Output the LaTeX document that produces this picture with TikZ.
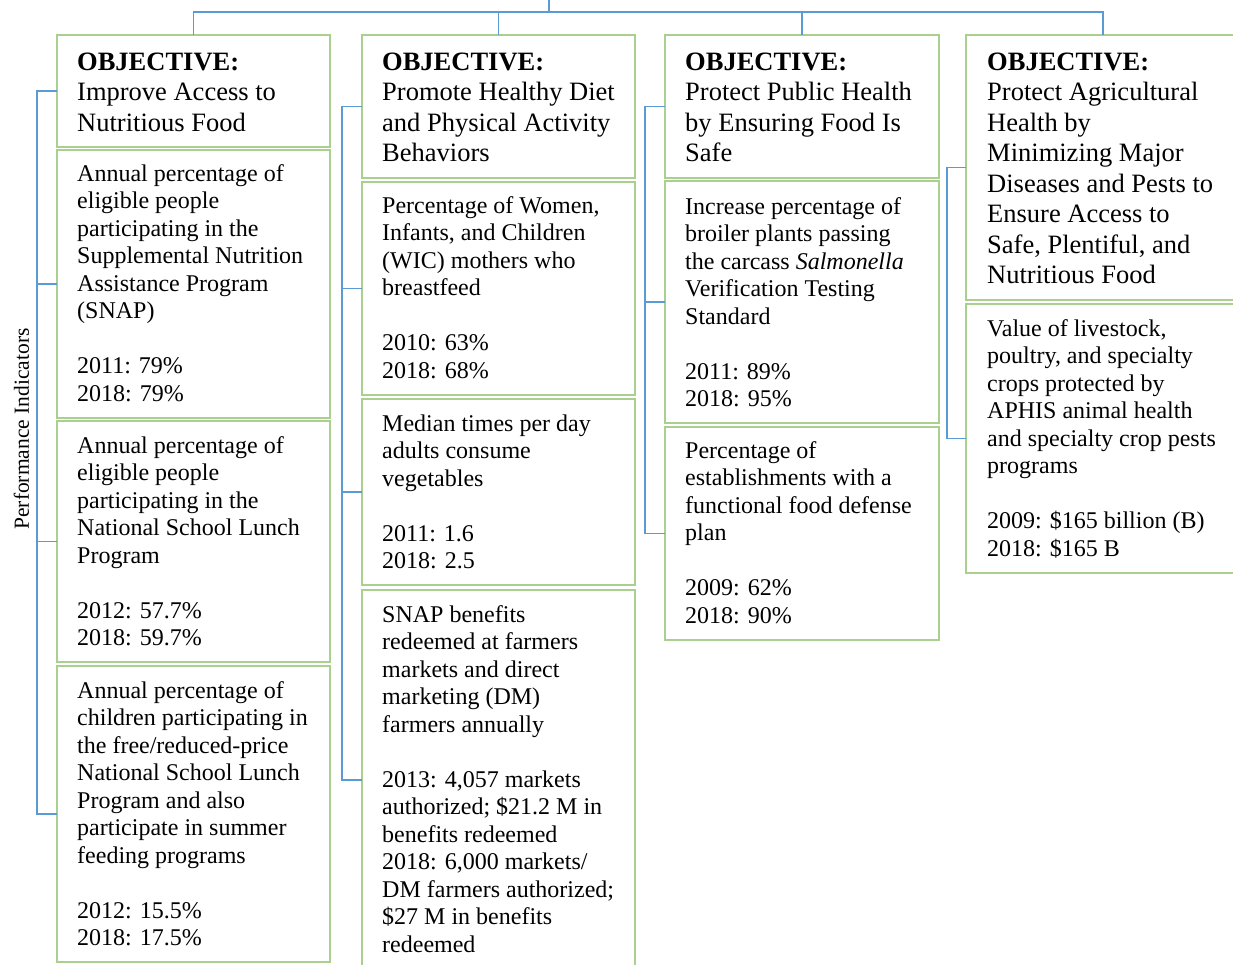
\documentclass[tikz,border=0pt]{standalone}
\usepackage{fontspec}
\setmainfont{Liberation Serif}
\definecolor{boxgreen}{HTML}{A9D08E}
\definecolor{linkblue}{HTML}{5B9BD5}
\begin{document}
\begin{tikzpicture}[x=1pt,y=-1pt,
  gbox/.style={draw=boxgreen,line width=2.4pt,anchor=north west,inner sep=0pt,outer sep=0pt,minimum width=273pt},
  conn/.style={draw=linkblue,line width=1.2pt},
  objtext/.style={anchor=north west,inner sep=0pt,align=left,font=\fontsize{26.5}{30.5}\selectfont},
  bodytext/.style={anchor=north west,inner sep=0pt,align=left,font=\fontsize{24}{27.5}\selectfont}]
\clip (0,0) rectangle (1233,965);
% boxes column 1
\node[gbox,minimum height=112pt] (o1) at (57,35) {};
\node[gbox,minimum height=268pt] (b11) at (57,150) {};
\node[gbox,minimum height=241pt] (b12) at (57,421) {};
\node[gbox,minimum height=296pt] (b13) at (57,666) {};
% column 2
\node[gbox,minimum height=143pt] (o2) at (362,35) {};
\node[gbox,minimum height=213pt] (b21) at (362,182) {};
\node[gbox,minimum height=186pt] (b22) at (362,399) {};
\node[gbox,minimum height=380pt] (b23) at (362,590) {};
% column 3
\node[gbox,minimum height=143pt,minimum width=274pt] (o3) at (665,35) {};
\node[gbox,minimum height=242pt,minimum width=274pt] (b31) at (665,181) {};
\node[gbox,minimum height=213pt,minimum width=274pt] (b32) at (665,427) {};
% column 4
\node[gbox,minimum height=265pt,minimum width=274pt] (o4) at (966,35) {};
\node[gbox,minimum height=269pt,minimum width=274pt] (b41) at (966,304) {};

% top connectors
\coordinate (root) at (549,0);
\coordinate (hub) at (549,12);
\draw[conn] (root) -- (hub);
\draw[conn] (o1.north) -- (o1.north |- hub) -| (o4.north);
\draw[conn] (o2.north) -- (o2.north |- hub);
\draw[conn] (o3.north) -- (o3.north |- hub);

% left brackets
\draw[conn] (o1.west) -- ++(-20,0) coordinate (s1) |- (b13.west);
\draw[conn] (b11.west) -- (b11.west -| s1);
\draw[conn] (b12.west) -- (b12.west -| s1);
\draw[conn] (o2.west) -- ++(-20,0) coordinate (s2) |- (b23.west);
\draw[conn] (b21.west) -- (b21.west -| s2);
\draw[conn] (b22.west) -- (b22.west -| s2);
\draw[conn] (o3.west) -- ++(-20,0) coordinate (s3) |- (b32.west);
\draw[conn] (b31.west) -- (b31.west -| s3);
\draw[conn] (o4.west) -- ++(-19,0) coordinate (s4) |- (b41.west);

% side label
\node[rotate=90,inner sep=0pt,font=\fontsize{21.5}{25}\selectfont] (pi) at (21.5,429) {Performance Indicators};

% objective texts
\node[objtext] (to1) at (77,48.65) {\strut\textbf{OBJECTIVE:}\\Improve Access to\\Nutritious Food};
\node[objtext] (to2) at (382,48.65) {\strut\textbf{OBJECTIVE:}\\Promote Healthy Diet\\and Physical Activity\\Behaviors};
\node[objtext] (to3) at (685,48.65) {\strut\textbf{OBJECTIVE:}\\Protect Public Health\\by Ensuring Food Is\\Safe};
\node[objtext] (to4) at (987,48.65) {\strut\textbf{OBJECTIVE:}\\Protect Agricultural\\Health by\\Minimizing Major\\Diseases and Pests to\\Ensure Access to\\Safe, Plentiful, and\\Nutritious Food};

% body texts
\node[bodytext] (t11) at (77,161.75) {\strut Annual percentage of\\eligible people\\participating in the\\Supplemental Nutrition\\Assistance Program\\(SNAP)\\\strut\\2011: 79\%\\2018: 79\%};
\node[bodytext] (t12) at (77,433.75) {\strut Annual percentage of\\eligible people\\participating in the\\National School Lunch\\Program\\\strut\\2012: 57.7\%\\2018: 59.7\%};
\node[bodytext] (t13) at (77,678.75) {\strut Annual percentage of\\children participating in\\the free/reduced-price\\National School Lunch\\Program and also\\participate in summer\\feeding programs\\\strut\\2012: 15.5\%\\2018: 17.5\%};
\node[bodytext] (t21) at (382,193.75) {\strut Percentage of Women,\\Infants, and Children\\(WIC) mothers who\\breastfeed\\\strut\\2010: 63\%\\2018: 68\%};
\node[bodytext] (t22) at (382,411.75) {\strut Median times per day\\adults consume\\vegetables\\\strut\\2011: 1.6\\2018: 2.5};
\node[bodytext] (t23) at (382,602.75) {\strut SNAP benefits\\redeemed at farmers\\markets and direct\\marketing (DM)\\farmers annually\\\strut\\2013: 4,057 markets\\authorized; \$21.2 M in\\benefits redeemed\\2018: 6,000 markets/\\DM farmers authorized;\\\$27 M in benefits\\redeemed};
\node[bodytext] (t31) at (685,194.75) {\strut Increase percentage of\\broiler plants passing\\the carcass \textit{Salmonella}\\Verification Testing\\Standard\\\strut\\2011: 89\%\\2018: 95\%};
\node[bodytext] (t32) at (685,438.75) {\strut Percentage of\\establishments with a\\functional food defense\\plan\\\strut\\2009: 62\%\\2018: 90\%};
\node[bodytext] (t41) at (987,316.75) {\strut Value of livestock,\\poultry, and specialty\\crops protected by\\APHIS animal health\\and specialty crop pests\\programs\\\strut\\2009: \$165 billion (B)\\2018: \$165 B};
\end{tikzpicture}
\end{document}
